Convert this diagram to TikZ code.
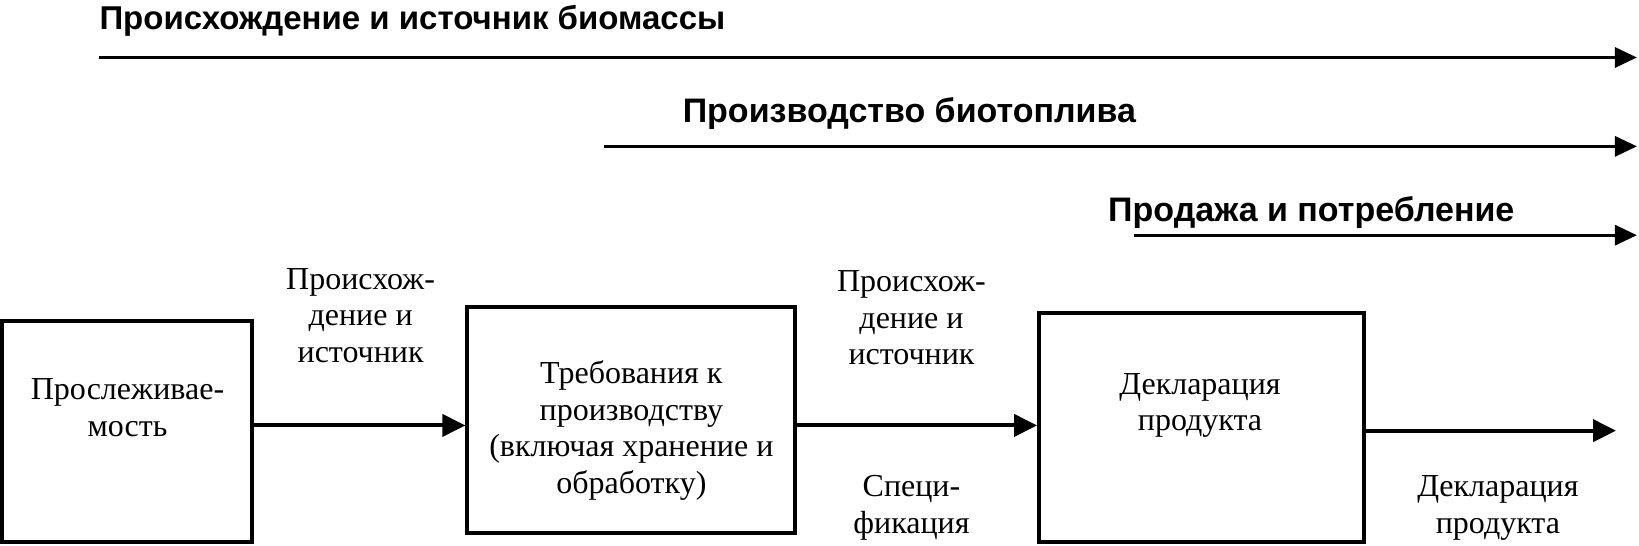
\documentclass[tikz,border=0pt]{standalone}
\usepackage{fontspec}
\setmainfont{Liberation Serif}
\newfontfamily\hdrfont{Liberation Sans}
\usetikzlibrary{arrows.meta}
\begin{document}
\begin{tikzpicture}[x=1.0453pt,y=-1.0453pt,
  boxnode/.style={draw,line width=4pt,inner sep=0pt},
  lbl/.style={align=center,font=\fontsize{32}{36.6}\selectfont,inner sep=0pt},
  hdr/.style={anchor=west,font=\hdrfont\bfseries\fontsize{34}{38}\selectfont,inner sep=0pt},
  flow/.style={line width=4pt,-{Triangle[length=23pt,width=22pt]}},
  phase/.style={line width=3.2pt,-{Triangle[length=22pt,width=20pt]}}]
\useasboundingbox (0,0) rectangle (1568,522.3);
% phase headers and arrows
\node[hdr,font=\hdrfont\bfseries\fontsize{33}{38}\selectfont] (h1) at (95,20) {Происхождение и источник биомассы};
\coordinate (a1s) at (95,55); \coordinate (a1e) at (1566,55);
\draw[phase] (a1s) -- (a1e);
\node[hdr] (h2) at (653,109) {Производство биотоплива};
\coordinate (a2s) at (578,140); \coordinate (a2e) at (1566,140);
\draw[phase] (a2s) -- (a2e);
\node[hdr] (h3) at (1060,203) {Продажа и потребление};
\coordinate (a3s) at (1085,225); \coordinate (a3e) at (1566,225);
\draw[phase] (a3s) -- (a3e);
% boxes
\node[boxnode,minimum width=250pt,minimum height=221pt] (b1) at (121.5,412.5) {};
\node[lbl] (t1) at (122,390) {Прослеживае-\\мость};
\node[boxnode,minimum width=328pt,minimum height=226pt] (b2) at (604,402) {};
\node[lbl] (t2) at (604,412) {Требования к\\производству\\(включая хранение и\\обработку)};
\node[boxnode,minimum width=325pt,minimum height=229pt] (b3) at (1149.5,408.5) {};
\node[lbl] (t3) at (1148,388) {Декларация\\продукта};
% connectors
\coordinate (o1) at (b1.east |- 0,407);
\coordinate (i2) at (b2.west |- 0,407);
\draw[flow] (o1) -- (i2);
\coordinate (o2) at (b2.east |- 0,407);
\coordinate (i3) at (b3.west |- 0,407);
\draw[flow] (o2) -- (i3);
\coordinate (o3) at (b3.east |- 0,412);
\coordinate (e3) at (1546,412);
\draw[flow] (o3) -- (e3);
% labels
\node[lbl] (l1) at (345,302) {Происхож-\\дение и\\источник};
\node[lbl] (l2) at (872,304) {Происхож-\\дение и\\источник};
\node[lbl] (l3) at (872,486) {Специ-\\фикация};
\node[lbl] (l4) at (1433,486) {Декларация\\продукта};
\end{tikzpicture}
\end{document}
